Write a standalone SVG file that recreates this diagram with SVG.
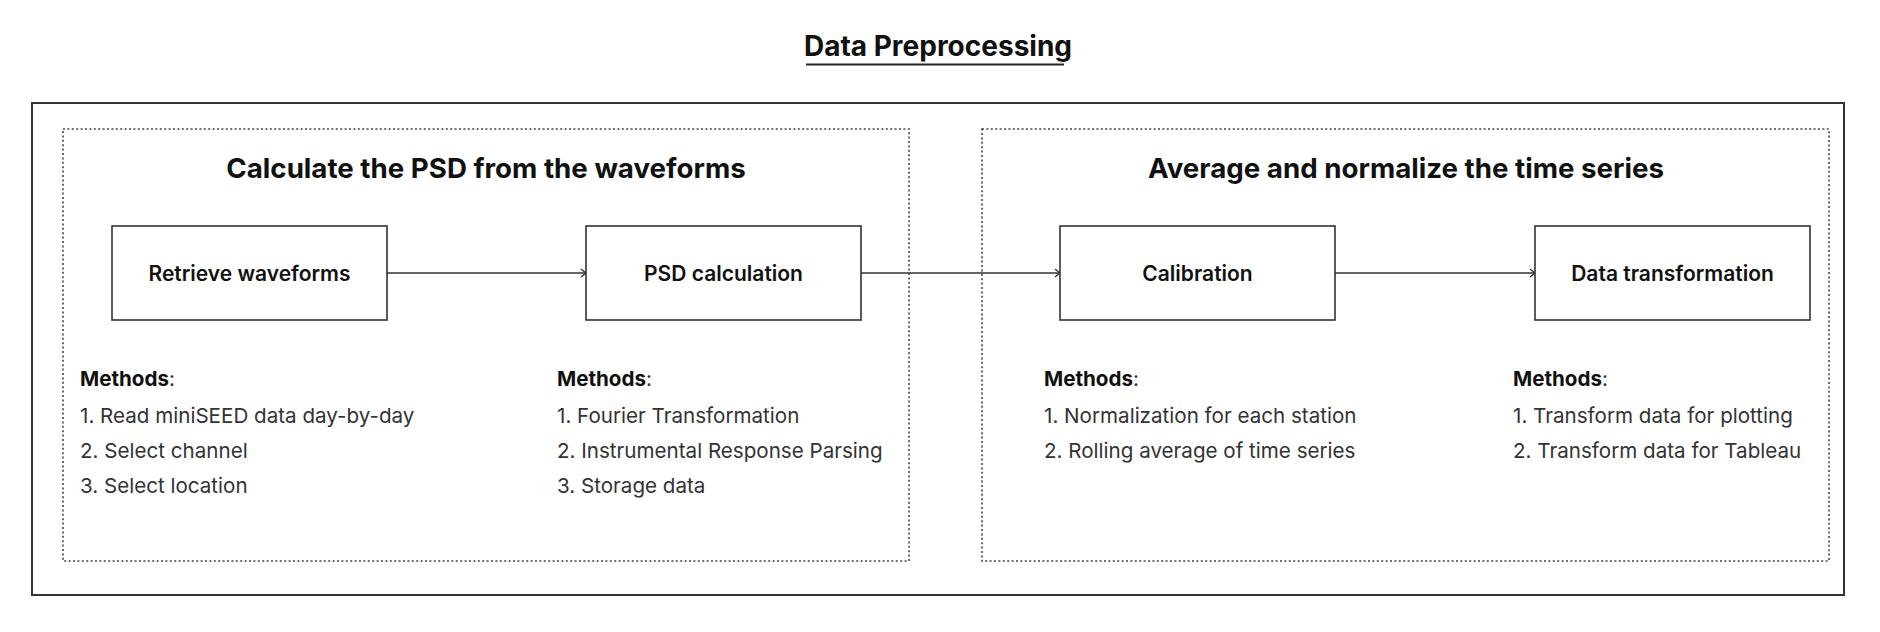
<svg xmlns="http://www.w3.org/2000/svg" width="1880" height="632" viewBox="0 0 1880 632">
<defs>
<style>
.frame{fill:none;stroke:#333;stroke-width:2}
.group{fill:none;stroke:#444;stroke-width:1.6;stroke-dasharray:2 2.4}
.node{fill:#fff;stroke:#333;stroke-width:1.6}
.title{font-family:Inter,"Liberation Sans",sans-serif;font-weight:700;font-size:27.7px;fill:#111;text-anchor:middle}
.label{font-family:Inter,"Liberation Sans",sans-serif;font-weight:600;font-size:21px;fill:#111;text-anchor:middle}
.m{font-family:Inter,"Liberation Sans",sans-serif;font-size:20.6px;fill:#333}
.mb{font-weight:700;fill:#111}
.conn{fill:none;stroke:#333;stroke-width:1.6}
</style>
<marker id="arr" viewBox="0 0 10 10" refX="9" refY="5" markerWidth="10" markerHeight="10" markerUnits="userSpaceOnUse" orient="auto">
<path d="M4,1 L9,5 L4,9" fill="none" stroke="#333" stroke-width="1.4"/>
</marker>
</defs>
<rect width="1880" height="632" fill="#fff"/>
<g id="header">
<text x="938" y="56" class="title" style="font-size:28px">Data Preprocessing</text>
<line x1="806" y1="64.5" x2="1064" y2="64.5" stroke="#222" stroke-width="2"/>
</g>
<rect id="frame" class="frame" x="32" y="103" width="1812" height="492"/>
<g id="group-psd">
<rect class="group" x="63" y="129" width="846" height="432"/>
<text x="486" y="178" class="title">Calculate the PSD from the waveforms</text>
</g>
<g id="group-avg">
<rect class="group" x="982" y="129" width="847" height="432"/>
<text x="1406" y="178" class="title">Average and normalize the time series</text>
</g>
<g id="connectors">
<line class="conn" x1="387" y1="273" x2="586" y2="273" marker-end="url(#arr)"/>
<line class="conn" x1="861" y1="273" x2="1060" y2="273" marker-end="url(#arr)"/>
<line class="conn" x1="1335" y1="273" x2="1535" y2="273" marker-end="url(#arr)"/>
</g>
<g id="node-retrieve">
<rect class="node" x="112" y="226" width="275" height="94"/>
<text x="249.5" y="281" class="label">Retrieve waveforms</text>
<text class="m" x="80" y="386"><tspan class="mb">Methods</tspan>:</text>
<text class="m" x="80" y="423">1. Read miniSEED data day-by-day</text>
<text class="m" x="80" y="458">2. Select channel</text>
<text class="m" x="80" y="493">3. Select location</text>
</g>
<g id="node-psd">
<rect class="node" x="586" y="226" width="275" height="94"/>
<text x="723.5" y="281" class="label">PSD calculation</text>
<text class="m" x="557" y="386"><tspan class="mb">Methods</tspan>:</text>
<text class="m" x="557" y="423">1. Fourier Transformation</text>
<text class="m" x="557" y="458">2. Instrumental Response Parsing</text>
<text class="m" x="557" y="493">3. Storage data</text>
</g>
<g id="node-calibration">
<rect class="node" x="1060" y="226" width="275" height="94"/>
<text x="1197.5" y="281" class="label">Calibration</text>
<text class="m" x="1044" y="386"><tspan class="mb">Methods</tspan>:</text>
<text class="m" x="1044" y="423">1. Normalization for each station</text>
<text class="m" x="1044" y="458">2. Rolling average of time series</text>
</g>
<g id="node-transform">
<rect class="node" x="1535" y="226" width="275" height="94"/>
<text x="1672.5" y="281" class="label">Data transformation</text>
<text class="m" x="1513" y="386"><tspan class="mb">Methods</tspan>:</text>
<text class="m" x="1513" y="423">1. Transform data for plotting</text>
<text class="m" x="1513" y="458">2. Transform data for Tableau</text>
</g>
</svg>
